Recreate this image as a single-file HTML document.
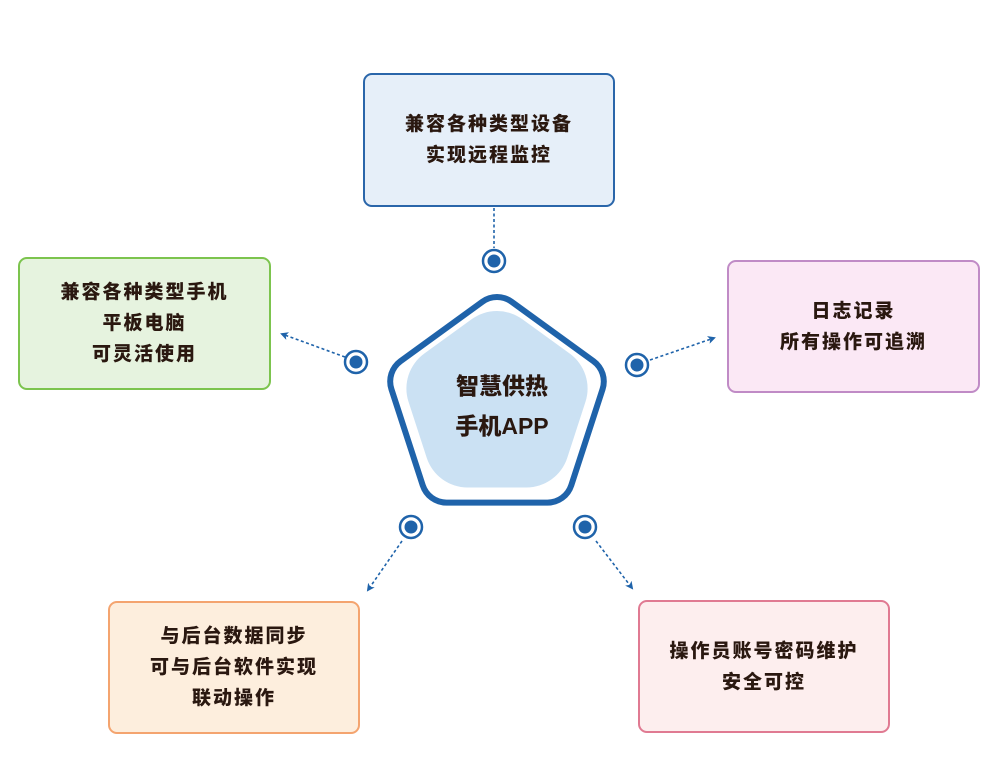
<!DOCTYPE html>
<html><head><meta charset="utf-8"><style>
body{margin:0;width:1004px;height:770px;background:#fff;position:relative;overflow:hidden;font-family:"Liberation Sans","Noto Sans CJK SC",sans-serif}
.b{position:absolute;box-sizing:border-box;border:2.5px solid;border-radius:9px;display:flex;align-items:center;justify-content:center;text-align:center;font-weight:900;font-size:19px;letter-spacing:2px;line-height:31px;color:#2a1810}
svg{position:absolute;left:0;top:0}
</style></head><body>
<div class="b" style="left:363px;top:73px;width:252px;height:134px;background:#e6eff9;border-color:#2a66aa">兼容各种类型设备<br>实现远程监控</div>
<div class="b" style="left:18px;top:257px;width:253px;height:133px;background:#e6f3df;border-color:#7cc44e">兼容各种类型手机<br>平板电脑<br>可灵活使用</div>
<div class="b" style="left:727px;top:260px;width:253px;height:133px;background:#fbe8f5;border-color:#c08bc6">日志记录<br>所有操作可追溯</div>
<div class="b" style="left:108px;top:601px;width:252px;height:133px;background:#fdeedd;border-color:#f4a46f">与后台数据同步<br>可与后台软件实现<br>联动操作</div>
<div class="b" style="left:638px;top:600px;width:252px;height:133px;background:#fdeeee;border-color:#e07a92">操作员账号密码维护<br>安全可控</div>
<svg width="1004" height="770" viewBox="0 0 1004 770">
<defs><marker id="a" markerWidth="8" markerHeight="8" refX="6" refY="4" orient="auto" markerUnits="userSpaceOnUse"><path d="M0,0 L8,4 L0,8 L2,4z" fill="#1f63aa"/></marker></defs>
<g stroke="#1f63aa" stroke-width="1.6" stroke-dasharray="3,2.5" fill="none">
<line x1="494" y1="208" x2="494" y2="248"/>
<line x1="345" y1="357" x2="282" y2="334" marker-end="url(#a)"/>
<line x1="650" y1="360" x2="714" y2="338" marker-end="url(#a)"/>
<line x1="402" y1="541" x2="368" y2="590" marker-end="url(#a)"/>
<line x1="596" y1="541" x2="632" y2="588" marker-end="url(#a)"/>
</g>
<polygon points="497,322 578.8,381.4 547.5,477.6 446.5,477.6 415.2,381.4" fill="#1f63aa" stroke="#1f63aa" stroke-width="56" stroke-linejoin="round"/>
<polygon points="497,322 578.8,381.4 547.5,477.6 446.5,477.6 415.2,381.4" fill="#fff" stroke="#fff" stroke-width="44" stroke-linejoin="round"/>
<polygon points="497,354 544.6,388.5 526.4,444.5 467.6,444.5 449.4,388.5" fill="#cbe1f3" stroke="#cbe1f3" stroke-width="86" stroke-linejoin="round"/>
<g fill="#fff" stroke="#1f63aa" stroke-width="2.5">
<circle cx="494" cy="261" r="11"/><circle cx="356" cy="362" r="11"/><circle cx="637" cy="365" r="11"/><circle cx="411" cy="527" r="11"/><circle cx="585" cy="527" r="11"/>
</g>
<g fill="#1f63aa">
<circle cx="494" cy="261" r="6.5"/><circle cx="356" cy="362" r="6.5"/><circle cx="637" cy="365" r="6.5"/><circle cx="411" cy="527" r="6.5"/><circle cx="585" cy="527" r="6.5"/>
</g>
<text x="502" y="394" text-anchor="middle" font-family="Liberation Sans,Noto Sans CJK SC,sans-serif" font-weight="900" font-size="23" fill="#2a1810">智慧供热</text>
<text x="502" y="434" text-anchor="middle" font-family="Liberation Sans,Noto Sans CJK SC,sans-serif" font-weight="900" font-size="23" fill="#2a1810">手机APP</text>
</svg>
</body></html>
